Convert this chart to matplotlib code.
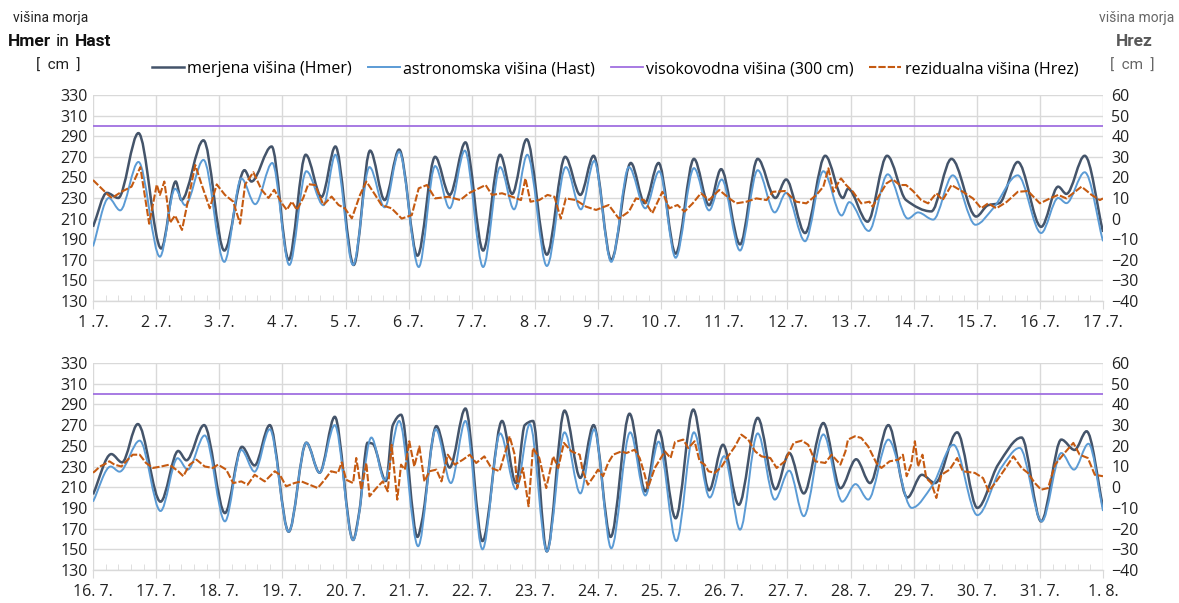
import matplotlib
matplotlib.use("Agg")
import matplotlib.pyplot as plt
from matplotlib import font_manager
from matplotlib.ticker import MultipleLocator
from matplotlib.path import Path
from matplotlib.patches import PathPatch
from matplotlib.lines import Line2D

plt.rcParams["font.family"] = ["Open Sans", "DejaVu Sans"]
try:
    font_manager.findfont("Liberation Sans Narrow", fallback_to_default=False)
    narrow = ["Liberation Sans Narrow", "DejaVu Sans"]
except ValueError:
    narrow = ["Roboto", "DejaVu Sans"]

# time in days from the first label of each panel, value in cm (Hrez in cm on right axis)
top_hmer = [(0.00, 202), (0.22, 235), (0.40, 230), (0.72, 293), (1.08, 181), (1.31, 246), (1.40, 228),
            (1.75, 286), (2.08, 179), (2.40, 257), (2.51, 246), (2.83, 280), (3.10, 170), (3.37, 272),
            (3.62, 231), (3.84, 280), (4.13, 165), (4.39, 276), (4.62, 228), (4.85, 277), (5.14, 174),
            (5.42, 270), (5.65, 233), (5.90, 284), (6.18, 179), (6.45, 272), (6.64, 234), (6.87, 287),
            (7.19, 175), (7.48, 270), (7.72, 233), (7.93, 271), (8.21, 170), (8.52, 264), (8.74, 225),
            (8.96, 264), (9.23, 176), (9.52, 268), (9.76, 223), (9.95, 258), (10.25, 185), (10.53, 268),
            (10.81, 230), (10.98, 248), (11.28, 196), (11.60, 271), (11.88, 230), (11.96, 239),
            (12.27, 207), (12.58, 271), (12.88, 228), (13.28, 217), (13.60, 268), (13.99, 212),
            (14.18, 223), (14.36, 225), (14.65, 265), (15.02, 202), (15.29, 241), (15.42, 234),
            (15.71, 271), (16.00, 197)]
top_hast = [(0.00, 183), (0.25, 230), (0.43, 218), (0.72, 265), (1.06, 173), (1.30, 239), (1.46, 223),
            (1.75, 267), (2.08, 168), (2.35, 249), (2.57, 224), (2.84, 264), (3.11, 165), (3.38, 256),
            (3.65, 223), (3.84, 272), (4.12, 165), (4.38, 260), (4.62, 221), (4.85, 275), (5.16, 163),
            (5.42, 261), (5.65, 220), (5.89, 276), (6.18, 163), (6.45, 260), (6.67, 219), (6.88, 272),
            (7.19, 164), (7.49, 260), (7.73, 219), (7.94, 266), (8.21, 168), (8.49, 260), (8.75, 220),
            (8.97, 256), (9.23, 172), (9.52, 259), (9.76, 218), (9.96, 248), (10.25, 179), (10.53, 257),
            (10.80, 216), (10.98, 235), (11.28, 188), (11.57, 256), (11.86, 213), (11.98, 226),
            (12.29, 198), (12.59, 253), (12.91, 210), (13.07, 216), (13.31, 209), (13.62, 252),
            (13.98, 204), (14.26, 220), (14.65, 252), (15.02, 196), (15.29, 230), (15.42, 225),
            (15.71, 255), (16.00, 188)]
top_hrez = [(0.00, 18.7), (0.24, 11.5), (0.30, 10), (0.45, 13), (0.61, 15.5), (0.75, 25), (0.89, -2.5),
            (1.01, 16.5), (1.06, 11.5), (1.13, 18), (1.22, -2), (1.30, 1.5), (1.41, -5.5), (1.62, 26),
            (1.72, 16.6), (1.85, 5), (1.96, 16.6), (2.09, 11.5), (2.22, 8.3), (2.33, -2.5), (2.41, 16.6),
            (2.54, 22.5), (2.67, 14), (2.78, 10), (2.87, 14), (2.99, 7.5), (3.07, 4.2), (3.15, 8.3),
            (3.23, 4.2), (3.33, 10), (3.41, 16.7), (3.52, 16.3), (3.65, 6.6), (3.78, 10.7), (3.89, 6.6),
            (3.99, 5), (4.10, 0.1), (4.23, 11.5), (4.33, 18), (4.47, 11.5), (4.57, 6.6), (4.73, 5),
            (4.89, 0), (5.05, 1.7), (5.16, 14.7), (5.29, 16.3), (5.42, 9.8), (5.63, 10.6), (5.82, 9),
            (5.95, 12.3), (6.06, 13.9), (6.22, 16.3), (6.32, 11.5), (6.48, 12.3), (6.64, 10.6),
            (6.78, 9), (6.85, 19.5), (6.93, 8.2), (7.07, 9), (7.20, 11.5), (7.31, 10.6), (7.41, 0),
            (7.49, 9.8), (7.65, 9), (7.81, 5.8), (7.97, 4.2), (8.17, 6.6), (8.33, 0), (8.49, 3.4),
            (8.60, 9.8), (8.73, 9), (8.86, 2.6), (9.02, 13), (9.13, 5), (9.26, 6.6), (9.37, 3.4),
            (9.50, 7.4), (9.63, 12.3), (9.76, 9), (9.92, 13.9), (10.08, 9.8), (10.19, 7.4),
            (10.35, 8.2), (10.51, 9.8), (10.67, 9), (10.77, 13), (10.96, 13.4), (11.14, 8.2),
            (11.30, 7.4), (11.46, 11.5), (11.57, 15.5), (11.65, 24.4), (11.73, 13), (11.83, 18.7),
            (11.85, 19.5), (11.93, 16.3), (12.04, 13), (12.17, 7.4), (12.30, 8.2), (12.35, 5.8),
            (12.46, 11.5), (12.57, 17.1), (12.67, 19), (12.78, 16.3), (12.88, 16.3), (12.99, 13.4),
            (13.12, 9), (13.23, 7.4), (13.36, 12.3), (13.46, 9), (13.60, 16.3), (13.76, 13.4),
            (13.94, 9.8), (14.07, 5), (14.18, 7.4), (14.31, 5), (14.47, 8), (14.65, 13), (14.81, 13.4),
            (15.00, 7.4), (15.16, 9.8), (15.29, 11.5), (15.42, 9.8), (15.66, 15.5), (15.82, 11.5),
            (15.95, 9), (16.00, 9.8)]

bot_hmer = [(0.00, 203), (0.29, 242), (0.46, 234), (0.71, 271), (1.07, 196), (1.35, 245), (1.48, 236),
            (1.76, 270), (2.09, 185), (2.36, 249), (2.56, 231), (2.80, 270), (3.10, 167), (3.38, 253),
            (3.59, 224), (3.83, 278), (4.12, 159), (4.22, 187), (4.35, 253), (4.43, 252), (4.64, 216),
            (4.75, 270), (4.88, 280), (5.14, 162), (5.21, 177), (5.44, 269), (5.65, 229), (5.90, 286),
            (6.17, 158), (6.48, 274), (6.70, 214), (6.84, 270), (6.97, 274), (7.19, 148), (7.47, 284),
            (7.72, 219), (7.93, 270), (8.20, 162), (8.50, 281), (8.75, 206), (8.96, 265), (9.23, 180),
            (9.51, 285), (9.76, 207), (9.98, 251), (10.23, 193), (10.53, 277), (10.81, 208),
            (11.03, 243), (11.26, 204), (11.57, 272), (11.84, 209), (12.09, 237), (12.31, 214),
            (12.60, 270), (12.90, 200), (13.13, 222), (13.34, 214), (13.69, 263), (14.01, 190),
            (14.34, 232), (14.71, 258), (15.02, 177), (15.34, 256), (15.55, 246), (15.74, 264),
            (16.00, 191)]
bot_hast = [(0.00, 196), (0.28, 230), (0.42, 225), (0.74, 255), (1.07, 187), (1.34, 238), (1.50, 227),
            (1.77, 260), (2.09, 177), (2.35, 246), (2.56, 225), (2.80, 266), (3.10, 167), (3.38, 253),
            (3.59, 224), (3.83, 270), (4.12, 159), (4.41, 258), (4.62, 217), (4.85, 274), (5.15, 153),
            (5.43, 266), (5.67, 214), (5.90, 274), (6.17, 150), (6.45, 262), (6.70, 208), (6.92, 271),
            (7.19, 148), (7.47, 263), (7.72, 204), (7.94, 266), (8.21, 151), (8.51, 263), (8.75, 202),
            (8.96, 254), (9.24, 158), (9.52, 263), (9.77, 200), (10.00, 240), (10.25, 169),
            (10.53, 262), (10.80, 198), (11.03, 226), (11.26, 182), (11.57, 261), (11.87, 196),
            (12.08, 213), (12.28, 198), (12.60, 256), (12.97, 190), (13.30, 212), (13.63, 251),
            (14.01, 183), (14.39, 229), (14.68, 248), (15.03, 177), (15.34, 243), (15.54, 227),
            (15.77, 252), (16.00, 187)]
bot_hrez = [(0.00, 7), (0.03, 7.7), (0.11, 10), (0.19, 11.2), (0.26, 12.5), (0.34, 10.9), (0.45, 10),
            (0.55, 13.3), (0.63, 15.7), (0.74, 15.7), (0.84, 11.7), (0.95, 9.3), (1.08, 10), (1.21, 10.9),
            (1.35, 7.7), (1.43, 5.3), (1.53, 10.9), (1.64, 13.3), (1.77, 10), (1.90, 9.3), (1.98, 10.9),
            (2.11, 8.5), (2.22, 2), (2.35, 2.8), (2.45, 1.2), (2.56, 6), (2.72, 2.8), (2.88, 7.7),
            (2.96, 6), (3.06, 0.4), (3.19, 2), (3.30, 2.8), (3.43, 1.2), (3.56, -0.4), (3.67, 3.6),
            (3.77, 7.7), (3.88, 6.9), (3.94, 12), (4.01, 3.6), (4.12, 2), (4.17, 14.1), (4.25, -1.2),
            (4.33, 11.7), (4.38, -4.4), (4.49, -0.4), (4.59, 2.8), (4.67, -2), (4.73, 20.5),
            (4.82, -6), (4.88, 10.9), (4.94, 8.5), (5.01, 22.2), (5.09, 10), (5.17, 19.7), (5.25, 2.8),
            (5.33, 7.7), (5.44, 8.5), (5.52, 2.8), (5.62, 15.7), (5.73, 10.9), (5.86, 13.3),
            (5.97, 15.7), (6.07, 11.7), (6.20, 14.9), (6.31, 9.3), (6.44, 7.7), (6.55, 18.9),
            (6.60, 24.6), (6.68, 15.7), (6.72, -0.4), (6.81, 9.3), (6.90, -9.2), (6.97, 18.9),
            (7.07, 14.1), (7.18, -0.4), (7.29, 14.9), (7.37, 9.3), (7.46, 21.4), (7.58, 17.3),
            (7.71, 15.7), (7.76, 7.7), (7.84, 1.2), (7.95, 6), (8.00, 8.5), (8.08, 5.3), (8.16, 11.7),
            (8.24, 15.7), (8.37, 17.3), (8.45, 16.5), (8.58, 18.1), (8.66, 14.1), (8.74, 6),
            (8.79, -0.4), (8.90, 9.3), (9.06, 17.3), (9.15, 14.1), (9.22, 21.8), (9.35, 23),
            (9.43, 18.9), (9.53, 22.2), (9.61, 12.5), (9.69, 10.9), (9.75, 7.7), (9.85, 6.9),
            (9.96, 10), (10.06, 14.9), (10.17, 19.7), (10.27, 25.4), (10.38, 23), (10.49, 17.3),
            (10.59, 14.9), (10.73, 14.1), (10.83, 9.3), (10.96, 12.5), (11.10, 21.4), (11.23, 22.5),
            (11.33, 20.5), (11.44, 12.5), (11.60, 11.7), (11.70, 15.7), (11.84, 10.9), (11.92, 17.3),
            (11.96, 23), (12.07, 24.6), (12.17, 23.8), (12.28, 19.7), (12.41, 11.7), (12.49, 9.3),
            (12.62, 12.5), (12.76, 13.3), (12.83, 15.7), (12.89, 5.3), (12.96, 10.9), (13.02, 22.2),
            (13.07, 10), (13.14, 15.7), (13.20, 4.4), (13.28, 2), (13.36, -5.2), (13.44, 6),
            (13.57, 8.5), (13.69, 14.1), (13.78, 7.7), (13.97, 6.9), (14.10, 4.4), (14.19, -2),
            (14.31, 2.8), (14.44, 8.5), (14.58, 14.9), (14.71, 9.3), (14.81, 6.9), (14.92, 2),
            (15.02, -1.2), (15.13, -0.4), (15.24, 10.9), (15.39, 16.5), (15.53, 21.4), (15.63, 15.7),
            (15.76, 14.1), (15.87, 6), (16.00, 5.3)]

flood_level = 300
top_labels = [f"{d} .7." for d in range(1, 18)]
bot_labels = [f"{d}. 7." for d in range(16, 32)] + ["1. 8."]

c_mer = "#44546A"
c_ast = "#5B9BD5"
c_flood = "#A070E0"
c_rez = "#C55A11"
c_grid = "#D9D9D9"
rez_dash = (0, (3.5, 1))


def smooth_path(pts):
    # smoothed line like Excel's "smoothed line": cubic segments, flat at turning points
    xs = [p[0] for p in pts]
    ys = [p[1] for p in pts]
    n = len(pts)
    d = [(ys[i + 1] - ys[i]) / (xs[i + 1] - xs[i]) for i in range(n - 1)]
    m = [d[0]] + [0.0] * (n - 2) + [d[-1]]
    for i in range(1, n - 1):
        if d[i - 1] * d[i] > 0:
            m[i] = 2 / (1 / d[i - 1] + 1 / d[i])
    verts = [pts[0]]
    codes = [Path.MOVETO]
    for i in range(n - 1):
        h = (xs[i + 1] - xs[i]) / 3
        verts += [(xs[i] + h, ys[i] + m[i] * h), (xs[i + 1] - h, ys[i + 1] - m[i + 1] * h),
                  (xs[i + 1], ys[i + 1])]
        codes += [Path.CURVE4] * 3
    return Path(verts, codes)


fig = plt.figure(figsize=(11.79, 6.03), dpi=100)
W, H = 1179, 603
panels = [(95, 301, top_hmer, top_hast, top_hrez, top_labels),
          (363, 570, bot_hmer, bot_hast, bot_hrez, bot_labels)]

for ytop, ybot, hmer, hast, hrez, labels in panels:
    ax = fig.add_axes([93 / W, 1 - ybot / H, 1010 / W, (ybot - ytop) / H])
    ax.add_patch(PathPatch(smooth_path(hmer), fill=False, edgecolor=c_mer, lw=1.8, zorder=3))
    ax.add_patch(PathPatch(smooth_path(hast), fill=False, edgecolor=c_ast, lw=1.4, zorder=4))
    ax.axhline(flood_level, color=c_flood, lw=1.3, zorder=2)
    ax.set_xlim(0, 16)
    ax.set_ylim(130, 330)
    ax.set_yticks(range(130, 331, 20))
    ax.set_xticks(range(17))
    ax.set_xticklabels(labels)
    ax.xaxis.set_minor_locator(MultipleLocator(0.2))
    ax.grid(True, which="major", color=c_grid, lw=1)
    ax.set_axisbelow(True)
    for s in ["top", "left", "right"]:
        ax.spines[s].set_visible(False)
    ax.spines["bottom"].set_color(c_grid)
    ax.spines["bottom"].set_linewidth(1)
    ax.tick_params(axis="y", length=0, labelsize=11.5, pad=4, labelcolor="#222222")
    ax.tick_params(axis="x", which="major", length=6, color=c_grid, labelsize=11.5, pad=4,
                   labelcolor="#222222")
    ax.tick_params(axis="x", which="minor", length=4, color=c_grid, direction="in")

    ax2 = ax.twinx()
    t3, v3 = zip(*hrez)
    ax2.plot(t3, v3, color=c_rez, lw=1.5, ls=rez_dash)
    ax2.set_ylim(-40, 60)
    ax2.yaxis.set_major_locator(MultipleLocator(10))
    for s in ax2.spines.values():
        s.set_visible(False)
    ax2.tick_params(axis="y", length=0, labelsize=11.5, pad=6, labelcolor="#222222")

handles = [Line2D([], [], color=c_mer, lw=1.8), Line2D([], [], color=c_ast, lw=1.4),
           Line2D([], [], color=c_flood, lw=1.3), Line2D([], [], color=c_rez, lw=1.5, ls=rez_dash)]
names = ["merjena višina (Hmer)", "astronomska višina (Hast)", "visokovodna višina (300 cm)",
         "rezidualna višina (Hrez)"]
fig.legend(handles, names, loc="center", bbox_to_anchor=(615 / W, 1 - 69 / H), ncol=4,
           frameon=False, fontsize=11.5, handlelength=2.0, handletextpad=0.2, columnspacing=1.0)

# axis headers
fig.text(51 / W, 1 - 18 / H, "višina morja", ha="center", va="center", fontsize=10,
         family=narrow, color="#222222")
fig.canvas.draw()
r = fig.canvas.get_renderer()
x = 8
for part, bold in [("Hmer", True), ("in", False), ("Hast", True)]:
    t = fig.text(x / W, 1 - 42 / H, part, ha="left", va="center", fontsize=12.5, family=narrow,
                 weight="bold" if bold else "normal", color="#111111")
    x = t.get_window_extent(r).x1 + 5
fig.text(58 / W, 1 - 66 / H, "[  cm  ]", ha="center", va="center", fontsize=11, family=narrow,
         color="#222222")

fig.text(1137 / W, 1 - 18 / H, "višina morja", ha="center", va="center", fontsize=10, family=narrow,
         color="#666666")
fig.text(1134 / W, 1 - 42 / H, "Hrez", ha="center", va="center", fontsize=12.5, weight="bold",
         family=narrow, color="#595959")
fig.text(1132 / W, 1 - 66 / H, "[  cm  ]", ha="center", va="center", fontsize=11, family=narrow,
         color="#666666")

fig.savefig("out.png", dpi=100)
